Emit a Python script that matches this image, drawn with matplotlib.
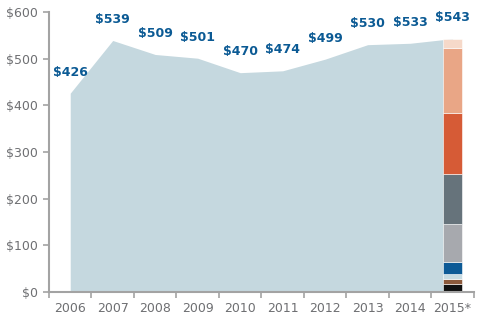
import numpy as np
import matplotlib.pyplot as plt

years = ['2006', '2007', '2008', '2009', '2010', '2011', '2012', '2013', '2014', '2015*']
totals = [426, 539, 509, 501, 470, 474, 499, 530, 533, 543]

# 2015 breakdown, bottom to top
seg_values = [17, 10, 12, 25, 82, 106, 132, 139, 20]
seg_colors = ['#111111', '#8c5a3c', '#c7dbe2', '#0d5a96', '#a7a9ae',
              '#66737b', '#d65b36', '#e9a686', '#f6d9c9']

area_color = '#c5d8df'
label_color = '#0b5a94'
text_gray = '#6e6f72'
axis_gray = '#a3a3a3'

fig = plt.figure(figsize=(4.85, 3.22), dpi=100)
ax = fig.add_axes([0.101, 0.0932, 0.876, 0.8695])

x = np.arange(len(years))
ax.fill_between(x, 0, totals, color=area_color, linewidth=0, zorder=1)

# stacked bar for the last year
bottom = 0
for v, c in zip(seg_values, seg_colors):
    ax.bar(x[-1], v, bottom=bottom, width=0.45, color=c,
           edgecolor='white', linewidth=0.4, zorder=2)
    bottom += v

for xi, v in zip(x, totals):
    ax.annotate('$%d' % v, (xi, v), xytext=(0, 15), textcoords='offset points',
                ha='center', va='center', fontsize=9, fontweight='bold',
                color=label_color, zorder=3)

ax.set_xlim(-0.5, len(years) - 0.5)
ax.set_ylim(0, 600)
ax.set_yticks(range(0, 601, 100))
ax.set_yticklabels(['$%d' % v for v in range(0, 601, 100)])
ax.set_xticks(x)
ax.set_xticklabels(years)
ax.set_xticks(np.arange(-0.5, len(years), 1), minor=True)

ax.tick_params(axis='x', which='major', length=0, pad=7, labelsize=9, labelcolor=text_gray)
ax.tick_params(axis='x', which='minor', length=4, width=1.2, color=axis_gray, direction='out')
ax.tick_params(axis='y', length=4, width=1.2, color=axis_gray, pad=4, labelsize=9, labelcolor=text_gray)

for s in ['top', 'right']:
    ax.spines[s].set_visible(False)
for s in ['left', 'bottom']:
    ax.spines[s].set_color(axis_gray)
    ax.spines[s].set_linewidth(1.5)

fig.savefig('out.png', dpi=100)
